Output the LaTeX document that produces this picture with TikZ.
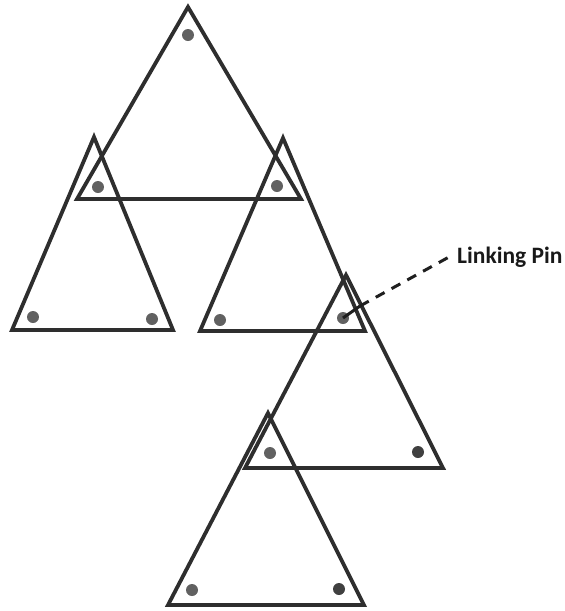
\documentclass[tikz,border=0pt]{standalone}
\usepackage{fontspec}
\setmainfont{Carlito}
\begin{document}
\begin{tikzpicture}[x=1pt,y=-1pt,
  tri/.style={draw=black!82, line width=3.8pt, line join=miter},
  pin/.style={circle, fill=black!62, inner sep=0pt, minimum size=12pt},
  pindark/.style={circle, fill=black!75, inner sep=0pt, minimum size=12pt},
  lead/.style={draw=black!88, line width=3pt},
  leaddash/.style={lead, dash pattern=on 10pt off 8pt},
  lbl/.style={font=\bfseries\fontsize{23.5}{25}\selectfont, text=black!90, inner sep=0pt, anchor=west}]
\useasboundingbox (0,0) rectangle (565,611);
% triangles
\draw[tri] (188,7) -- (301,199) -- (77,199) -- cycle;
\draw[tri] (94,137) -- (173,330) -- (12,330) -- cycle;
\draw[tri] (283,138) -- (365,331) -- (200,331) -- cycle;
\draw[tri] (346,275) -- (443,468) -- (245,468) -- cycle;
\draw[tri] (268,413) -- (364,605) -- (168,605) -- cycle;
% pins
\node[pin] (p1) at (188,35) {};
\node[pin] (p2) at (98,187) {};
\node[pin] (p3) at (277,186) {};
\node[pin] (p4) at (33,317) {};
\node[pin] (p5) at (152,319) {};
\node[pin] (p6) at (220,320) {};
\node[pin] (p7) at (343,318) {};
\node[pin] (p8) at (270,453) {};
\node[pindark] (p9) at (418,452) {};
\node[pin] (p10) at (192,590) {};
\node[pindark] (p11) at (339,589) {};
% label
\node[lbl] (lp) at (457,257) {Linking Pin};
\coordinate (edge) at (360,306);
\draw[lead] (p7.center) -- (edge);
\draw[leaddash] (edge) -- ([xshift=-8pt]lp.west);
\end{tikzpicture}
\end{document}
